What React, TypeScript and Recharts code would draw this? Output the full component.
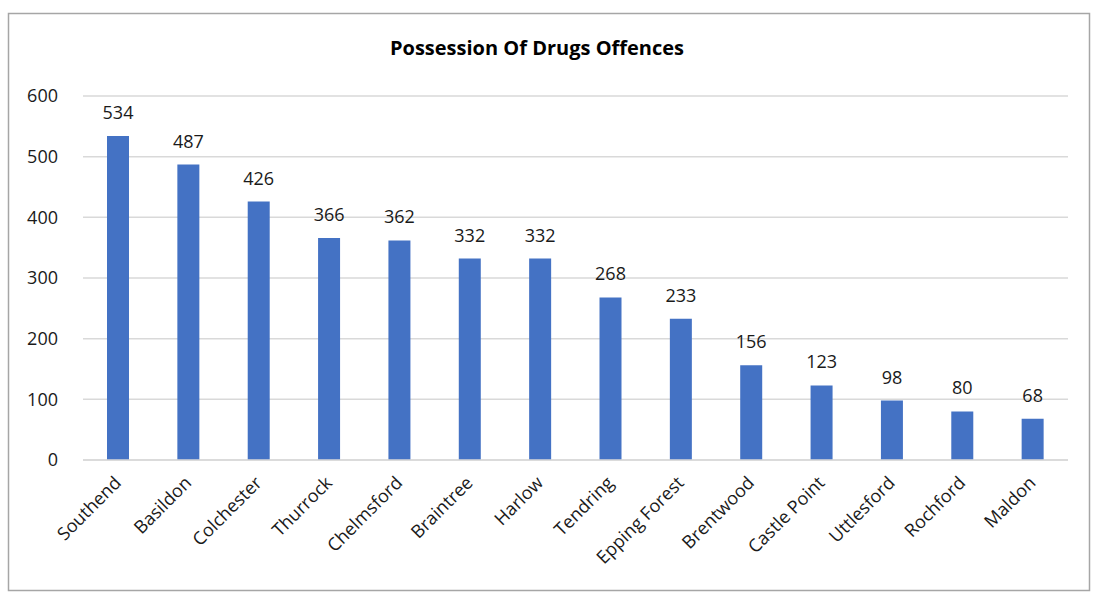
import React from 'react';
import { BarChart, Bar, XAxis, YAxis, CartesianGrid, LabelList } from 'recharts';

const categories = ['Southend', 'Basildon', 'Colchester', 'Thurrock', 'Chelmsford', 'Braintree', 'Harlow', 'Tendring', 'Epping Forest', 'Brentwood', 'Castle Point', 'Uttlesford', 'Rochford', 'Maldon'];
const offences = [534, 487, 426, 366, 362, 332, 332, 268, 233, 156, 123, 98, 80, 68];
const yTicks = [0, 100, 200, 300, 400, 500, 600];
const title = 'Possession Of Drugs Offences';

const data = categories.map((name, i) => ({ name, value: offences[i] }));

const FONT = '"Open Sans", sans-serif';

const XTick = (props: any) => {
  const { x, y, payload } = props;
  return (
    <text
      transform={`translate(${x + 4},${y + 16}) rotate(-45)`}
      textAnchor="end"
      fontFamily={FONT}
      fontSize={18}
      fill="#1a1a1a"
    >
      {payload.value}
    </text>
  );
};

export default function App() {
  return (
    <div style={{ position: 'absolute', left: 0, top: 0, width: 1094, height: 592, background: '#fff' }}>
      <svg width={1094} height={592} style={{ position: 'absolute', left: 0, top: 0 }}>
        <rect x={8.5} y={13.5} width={1081} height={577} fill="none" stroke="#a6a6a6" strokeWidth={1.5} />
        <text x={537} y={55} textAnchor="middle" fontFamily={FONT} fontWeight={700} fontSize={20} fill="#000">
          {title}
        </text>
      </svg>
      <div style={{ position: 'absolute', left: 0, top: 0 }}>
        <BarChart width={1094} height={592} data={data} margin={{ top: 96, right: 26, bottom: 0, left: 0 }}>
          <CartesianGrid vertical={false} stroke="#d9d9d9" strokeWidth={1.5} />
          <XAxis
            dataKey="name"
            interval={0}
            tick={<XTick />}
            tickLine={false}
            axisLine={{ stroke: '#d9d9d9', strokeWidth: 1.5 }}
            height={132}
          />
          <YAxis
            domain={[0, 600]}
            ticks={yTicks}
            width={83}
            tickLine={false}
            axisLine={false}
            tickSize={0}
            tickMargin={25}
            tick={{ fontFamily: FONT, fontSize: 18, fill: '#1a1a1a' }}
          />
          <Bar dataKey="value" fill="#4472C4" barSize={22} isAnimationActive={false}>
            <LabelList dataKey="value" position="top" offset={17} style={{ fontFamily: FONT, fontSize: 18, fill: '#1a1a1a' }} />
          </Bar>
        </BarChart>
      </div>
    </div>
  );
}
